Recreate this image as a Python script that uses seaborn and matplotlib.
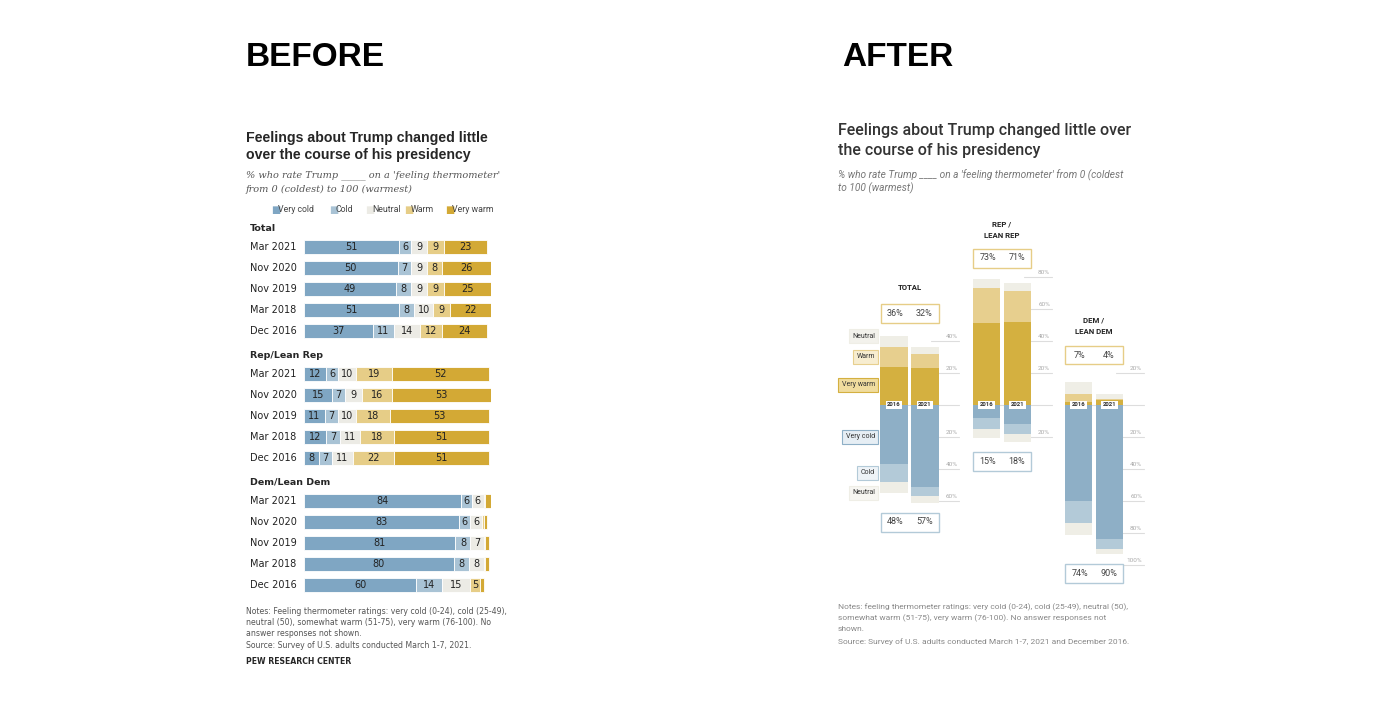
import matplotlib
matplotlib.use("Agg")
import matplotlib.pyplot as plt
import seaborn as sns
import numpy as np
from matplotlib.patches import FancyBboxPatch

sns.set_theme(style="white")
plt.rcParams['font.family'] = ['Roboto', 'DejaVu Sans']

W, H = 1400, 711
cats = ["Very cold", "Cold", "Neutral", "Warm", "Very warm"]
col_left = ["#7fa6c3", "#a9c3d5", "#ecebe5", "#e6cd87", "#d3a935"]
col_right = ["#8eafc6", "#b3cad8", "#efeee6", "#e7cf8e", "#d4b040"]

groups = ["Total", "Rep/Lean Rep", "Dem/Lean Dem"]
dates = ["Mar 2021", "Nov 2020", "Nov 2019", "Mar 2018", "Dec 2016"]
total_vals = [[51, 6, 9, 9, 23], [50, 7, 9, 8, 26], [49, 8, 9, 9, 25], [51, 8, 10, 9, 22], [37, 11, 14, 12, 24]]
rep_vals = [[12, 6, 10, 19, 52], [15, 7, 9, 16, 53], [11, 7, 10, 18, 53], [12, 7, 11, 18, 51], [8, 7, 11, 22, 51]]
dem_vals = [[84, 6, 6, 1, 3], [83, 6, 6, 1, 2], [81, 8, 7, 1, 2], [80, 8, 8, 1, 2], [60, 14, 15, 5, 2]]
all_vals = [total_vals, rep_vals, dem_vals]

after_groups = ["TOTAL", "REP /\nLEAN REP", "DEM /\nLEAN DEM"]
after_years = ["2016", "2021"]
warm_totals = [["36%", "32%"], ["73%", "71%"], ["7%", "4%"]]
cold_totals = [["48%", "57%"], ["15%", "18%"], ["74%", "90%"]]

fig = plt.figure(figsize=(14, 7.11), dpi=100)
fig.patch.set_facecolor("white")

def P(x, y):
    return (x / W, 1 - y / H)

# headers
fig.text(*P(246, 58), "BEFORE", fontsize=24, fontweight="bold", color="black", va="center", family="Liberation Sans")
fig.text(*P(842, 58), "AFTER", fontsize=24, fontweight="bold", color="black", va="center", family="Liberation Sans")

# ---------------- BEFORE ----------------
fig.text(*P(246, 138), "Feelings about Trump changed little", fontsize=10.2, fontweight="bold", va="center", family="Liberation Sans")
fig.text(*P(246, 155), "over the course of his presidency", fontsize=10.2, fontweight="bold", va="center", family="Liberation Sans")
fig.text(*P(246, 175), "% who rate Trump _____ on a 'feeling thermometer'", fontsize=7, style="italic", color="#555", va="center", family="DejaVu Serif")
fig.text(*P(246, 189), "from 0 (coldest) to 100 (warmest)", fontsize=7, style="italic", color="#555", va="center", family="DejaVu Serif")

lx = [271, 329, 365, 404, 445]
for c, col, x in zip(cats, col_left, lx):
    fig.text(*P(x, 210), "■", color=col, fontsize=7, va="center")
    fig.text(*P(x + 7, 210), c, color="#444", fontsize=6.3, va="center")

axL = fig.add_axes([304 / W, 1 - 600 / H, 187 / W, 380 / H])
axL.set_xlim(0, 100)
axL.set_ylim(600, 220)
axL.axis("off")
for g, (gname, gv) in enumerate(zip(groups, all_vals)):
    fig.text(*P(250, 228 + 127 * g), gname, fontsize=6.8, fontweight="bold", va="center", family="DejaVu Sans")
    for r, (d, row) in enumerate(zip(dates, gv)):
        y = 247 + 127 * g + 21 * r
        fig.text(*P(250, y), d, fontsize=7, va="center", color="#222", family="DejaVu Sans")
        left = 0
        for k, v in enumerate(row):
            axL.barh(y, v, left=left, height=14, color=col_left[k], edgecolor="white", linewidth=0.6)
            if v >= 5:
                axL.text(left + v / 2, y, str(v), ha="center", va="center", fontsize=7, color="#222", family="DejaVu Sans")
            left += v

notes_l = ["Notes: Feeling thermometer ratings: very cold (0-24), cold (25-49),",
           "neutral (50), somewhat warm (51-75), very warm (76-100). No",
           "answer responses not shown.",
           "Source: Survey of U.S. adults conducted March 1-7, 2021."]
for i, t in enumerate(notes_l):
    fig.text(*P(246, 611 + 11.5 * i), t, fontsize=5.6, color="#555", va="center", family="DejaVu Sans")
fig.text(*P(246, 661), "PEW RESEARCH CENTER", fontsize=5.6, fontweight="bold", va="center", family="DejaVu Sans")

# ---------------- AFTER ----------------
fig.text(*P(838, 131), "Feelings about Trump changed little over", fontsize=11.5, fontweight="medium", color="#333", va="center")
fig.text(*P(838, 150), "the course of his presidency", fontsize=11.5, fontweight="medium", color="#333", va="center")
fig.text(*P(838, 175), "% who rate Trump ____ on a 'feeling thermometer' from 0 (coldest", fontsize=7.3, style="italic", color="#777", va="center")
fig.text(*P(838, 188), "to 100 (warmest)", fontsize=7.3, style="italic", color="#777", va="center")

right_data = [
    [total_vals[4], total_vals[0]],
    [rep_vals[4], rep_vals[0]],
    [dem_vals[4], dem_vals[0]],
]
centers = [909.5, 1002, 1094]
pxu = 31
ytop, ybot, y0, ppp = 258, 592, 405, 1.6
ticks_sets = [[40, 20, -20, -40, -60], [80, 60, 40, 20, -20], [20, -20, -40, -60, -80, -100]]
label_x = 2.05
title_y = [(288,), (224, 236), (320, 332)]
warm_box_y = [313, 258, 355]
cold_box_y = [522, 461, 573]

for gi in range(3):
    ax = fig.add_axes([(centers[gi] - pxu) / W, 1 - ybot / H, (3.0 * pxu) / W, (ybot - ytop) / H])
    ax.set_xlim(-0.5, 2.5)
    ax.set_ylim(-(ybot - y0) / ppp, (y0 - ytop) / ppp)
    ax.axis("off")
    for t in ticks_sets[gi] + [0]:
        ax.plot([-0.45 if t == 0 else 1.2, 2.1], [t, t], color="#dddddd", lw=0.8, zorder=0)
        if t != 0:
            ax.text(label_x, t + 1.2, f"{abs(t)}%", fontsize=4.6, color="#aaa", va="bottom", ha="right")
    for bi, row in enumerate(right_data[gi]):
        vc, co, ne, wa, vw = row
        segs_up = [(vw, col_right[4]), (wa, col_right[3]), (ne / 2, col_right[2])]
        segs_dn = [(vc, col_right[0]), (co, col_right[1]), (ne / 2, col_right[2])]
        b = 0
        for v, col in segs_up:
            ax.bar(bi, v, bottom=b, width=0.9, color=col, linewidth=0, zorder=2)
            b += v
        b = 0
        for v, col in segs_dn:
            ax.bar(bi, -v, bottom=b, width=0.9, color=col, linewidth=0, zorder=2)
            b -= v
        ax.text(bi, 0, after_years[bi], fontsize=4.3, ha="center", va="center", color="#333", fontweight="bold",
                zorder=3, bbox=dict(boxstyle="square,pad=0.25", fc="white", ec="none"))
    for yb, labs, ec in [(warm_box_y[gi], warm_totals[gi], "#e6cd87"), (cold_box_y[gi], cold_totals[gi], "#b3cad8")]:
        fig.patches.append(FancyBboxPatch(P(centers[gi] - 29, yb + 9.5), 58 / W, 19 / H, boxstyle="square,pad=0",
                                          transform=fig.transFigure, fc="white", ec=ec, lw=1))
        fig.text(*P(centers[gi] - 14, yb), labs[0], fontsize=6.5, ha="center", va="center", color="#444")
        fig.text(*P(centers[gi] + 15, yb), labs[1], fontsize=6.5, ha="center", va="center", color="#444")
    lines = after_groups[gi].split("\n")
    for ln, ty in zip(lines, title_y[gi]):
        fig.text(*P(centers[gi], ty), ln, fontsize=5.6, fontweight="bold", ha="center", va="center", color="#222")

side = [("Neutral", 336, col_right[2], "#f3f2ec"), ("Warm", 357, col_right[3], "#f7edd0"),
        ("Very warm", 385, col_right[4], "#f0dc9e"), ("Very cold", 437, col_right[0], "#e6eef4"),
        ("Cold", 473, col_right[1], "#eef3f7"), ("Neutral", 493, col_right[2], "#f7f6f2")]
for lab, y, ec, fc in side:
    fig.text(*P(875, y), lab, fontsize=5, ha="right", va="center", color="#333",
             bbox=dict(boxstyle="square,pad=0.5", fc=fc, ec=ec, lw=0.8))

notes_r = ["Notes: feeling thermometer ratings: very cold (0-24), cold (25-49), neutral (50),",
           "somewhat warm (51-75), very warm (76-100). No answer responses not",
           "shown.",
           "Source: Survey of U.S. adults conducted March 1-7, 2021 and December 2016."]
ys = [607, 618, 629, 642]
for t, y in zip(notes_r, ys):
    fig.text(*P(838, y), t, fontsize=6, color="#888", va="center")

fig.savefig("out.png", dpi=100, facecolor="white")
